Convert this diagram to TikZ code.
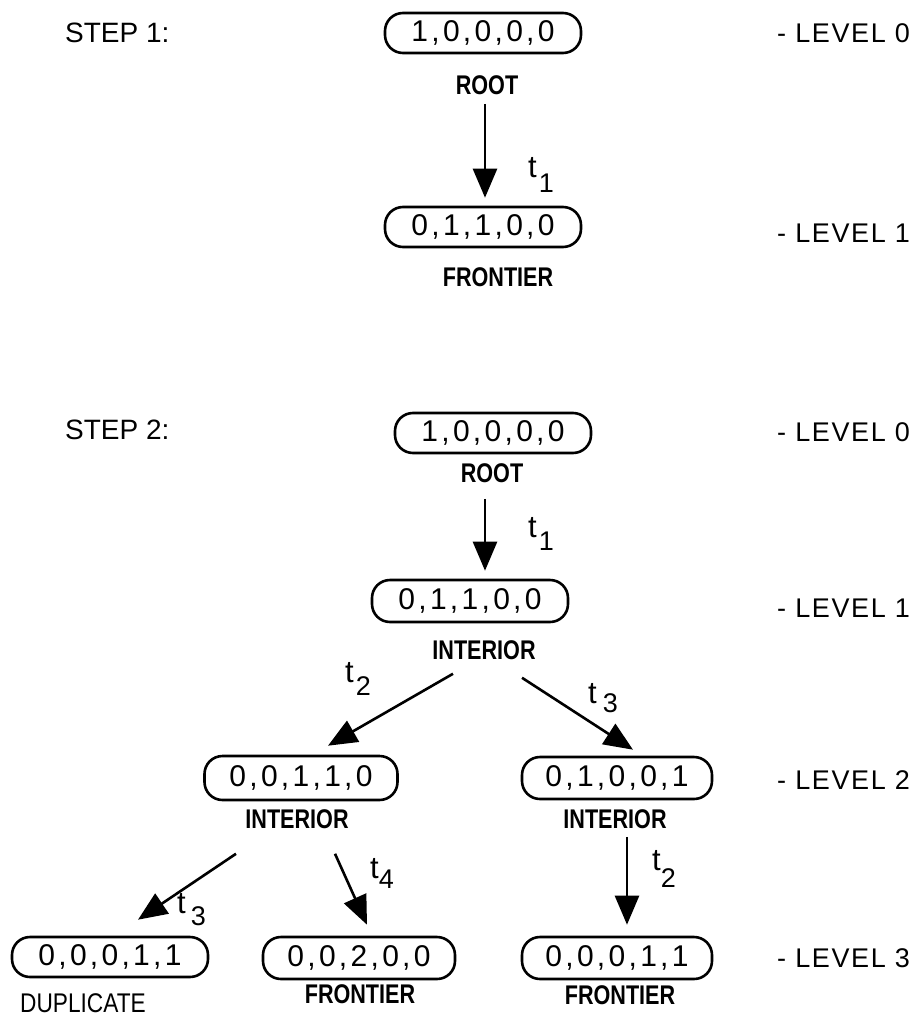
\documentclass[tikz,border=0pt]{standalone}
\usepackage{fontspec}
\setmainfont{Liberation Sans}
\newfontfamily\tuplefont[LetterSpace=11]{Liberation Sans}
\newfontfamily\levelfont[LetterSpace=6]{Liberation Sans}
\usetikzlibrary{arrows.meta}

% condensed caption text under a state
\newcommand\cond[1]{\scalebox{0.8}[1]{\bfseries #1}}
% transition name t with a lowered index: kern, drop, index
\newcommand\tsub[3]{t\kern#1pt\raisebox{-#2pt}{\fontsize{27}{27}\selectfont #3}}

\tikzset{
  pill/.style={draw, line width=2.6pt, rounded corners=18pt,
    minimum width=196pt, minimum height=40pt, inner sep=0pt,
    font=\tuplefont\fontsize{30}{30}\selectfont},
  nodetag/.style={inner sep=0pt, font=\fontsize{27}{27}\selectfont},
  lvl/.style={anchor=west, inner sep=0pt, font=\levelfont\fontsize{27}{27}\selectfont},
  steplbl/.style={anchor=west, inner sep=0pt, font=\fontsize{28}{28}\selectfont},
  tlab/.style={anchor=base west, inner sep=0pt, font=\fontsize{31}{31}\selectfont},
  arr/.style={line width=2.6pt, -{Triangle[length=29pt,width=24pt]}},
}

\begin{document}
\begin{tikzpicture}[x=1pt,y=-1pt]
\useasboundingbox (0,0) rectangle (916,1017);

% ---------- step 1 ----------
\node[steplbl] (step1) at (65,33) {STEP 1:};
\node[pill] (r1) at (483,33) {1,0,0,0,0};
\node[nodetag] (r1lbl) at (487,85) {\cond{ROOT}};
\node[pill] (f1) at (483,227) {0,1,1,0,0};
\node[nodetag] (f1lbl) at (498,277) {\cond{FRONTIER}};
\node[lvl] (s1l0) at (777,33) {- LEVEL 0};
\node[lvl] (s1l1) at (777,233) {- LEVEL 1};

\draw[arr] ([shift={(-2,9)}]r1lbl.south) -- ([shift={(2,-8)}]f1.north);
\node[tlab] (s1t1) at (528,177) {\tsub{2}{15}{1}};

% ---------- step 2 ----------
\node[steplbl] (step2) at (65,430) {STEP 2:};
\node[pill] (r2) at (493,433) {1,0,0,0,0};
\node[nodetag] (r2lbl) at (492,473) {\cond{ROOT}};
\node[pill, minimum height=42pt, minimum width=196pt] (n1) at (470,601) {0,1,1,0,0};
\node[nodetag] (n1lbl) at (484,650) {\cond{INTERIOR}};

\node[pill, minimum height=44pt, minimum width=193pt] (n2a) at (301,778) {0,0,1,1,0};
\node[nodetag] (n2albl) at (297,819) {\cond{INTERIOR}};
\node[pill, minimum height=42pt, minimum width=190pt] (n2b) at (617,778) {0,1,0,0,1};
\node[nodetag] (n2blbl) at (615,819) {\cond{INTERIOR}};

\node[pill] (n3a) at (110,957) {0,0,0,1,1};
\node[nodetag] (n3albl) at (83,1003) {\scalebox{0.84}[1]{DUPLICATE}};
\node[pill, minimum width=192pt, minimum height=42pt] (n3b) at (359,958) {0,0,2,0,0};
\node[nodetag] (n3blbl) at (360,994) {\cond{FRONTIER}};
\node[pill, minimum width=190pt, minimum height=42pt] (n3c) at (617,958) {0,0,0,1,1};
\node[nodetag] (n3clbl) at (620,995) {\cond{FRONTIER}};

\node[lvl] (s2l0) at (777,432) {- LEVEL 0};
\node[lvl] (s2l1) at (777,608) {- LEVEL 1};
\node[lvl] (s2l2) at (777,780) {- LEVEL 2};
\node[lvl] (s2l3) at (777,958) {- LEVEL 3};

% transitions
\draw[arr] ([shift={(-7,16)}]r2lbl.south) -- ([shift={(15,-8)}]n1.north);
\node[tlab] (s2t1) at (528,537) {\tsub{2}{13}{1}};

\draw[arr] ([shift={(-31,14)}]n1lbl.south) -- ([shift={(27,-9)}]n2a.north);
\node[tlab] (s2t2) at (345,682) {\tsub{2}{13}{2}};

\draw[arr] ([shift={(38,18)}]n1lbl.south) -- ([shift={(16,-6)}]n2b.north);
\node[tlab] (s2t3) at (588,703) {\tsub{6}{9}{3}};

\draw[arr] ([shift={(-61,25)}]n2albl.south) -- ([shift={(28,-16)}]n3a.north);
\node[tlab] (s2t3b) at (177,913) {\tsub{5}{12}{3}};

\draw[arr] ([shift={(38,25)}]n2albl.south) -- ([shift={(8,-11)}]n3b.north);
\node[tlab] (s2t4) at (370,878) {\tsub{0}{10}{4}};

\draw[arr] ([shift={(12,8)}]n2blbl.south) -- ([shift={(10,-11)}]n3c.north);
\node[tlab] (s2t2b) at (652,870) {\tsub{0}{17}{2}};
\end{tikzpicture}
\end{document}
